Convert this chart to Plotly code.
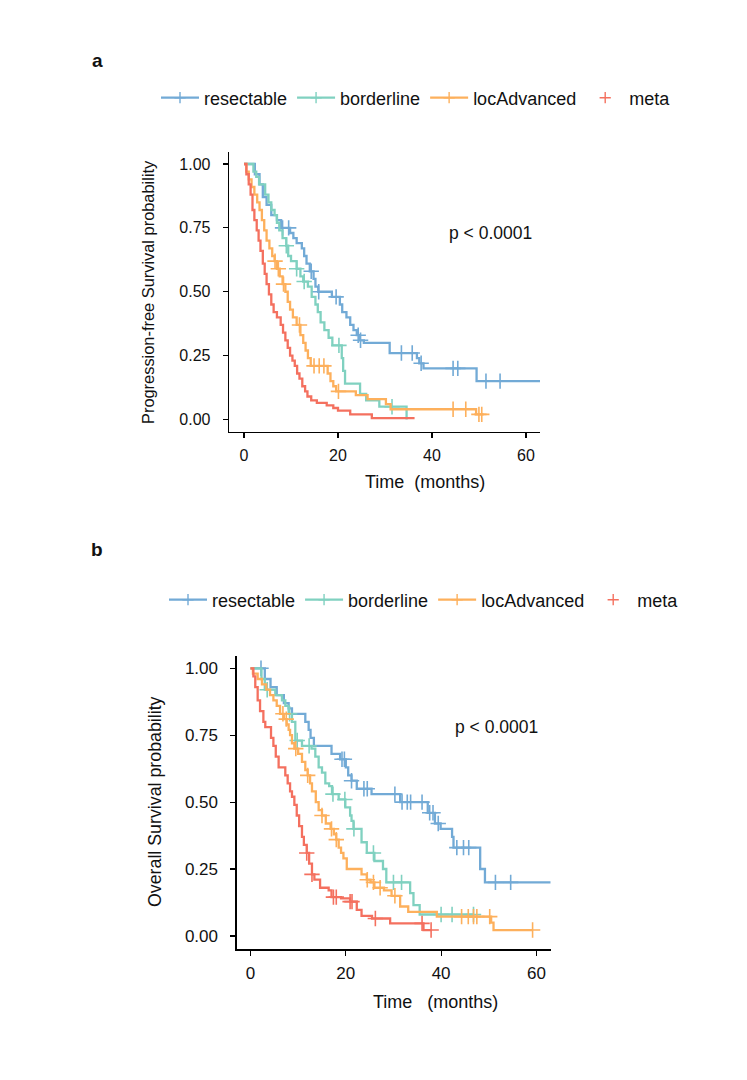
import plotly.graph_objects as go

W, H = 747, 1080
groups = ["resectable", "borderline", "locAdvanced", "meta"]
colors = {"resectable": "#72AAD6", "borderline": "#80D1C0", "locAdvanced": "#FDB05C", "meta": "#F4705F"}

# ---------------- Panel a: progression-free survival ----------------
pfs_res_t = [0, 2.3, 3.3, 4.0, 4.8, 5.8, 7.0, 7.9, 9.8, 10.5, 11.2, 12.3, 12.8, 13.3, 14.0, 14.8, 15.2, 15.8, 18.7, 20.4, 20.9, 21.8, 22.6, 23.3, 24.0, 24.6, 25.5, 31.0, 36.8, 37.3, 38.2, 49.5]
pfs_res_s = [1.0, 0.96, 0.92, 0.87, 0.84, 0.80, 0.78, 0.75, 0.73, 0.71, 0.69, 0.67, 0.64, 0.61, 0.58, 0.55, 0.52, 0.50, 0.48, 0.45, 0.42, 0.40, 0.37, 0.35, 0.33, 0.31, 0.30, 0.26, 0.24, 0.22, 0.20, 0.15]
pfs_res_end = 63
pfs_res_cens = [8.2, 9.5, 14.3, 15.9, 19.6, 24.3, 24.8, 33.5, 35.8, 37.7, 44.5, 45.5, 51.5, 54.5]

pfs_bor_t = [0, 2.0, 2.6, 3.2, 4.5, 5.2, 5.8, 6.5, 7.0, 7.5, 8.2, 9.0, 9.4, 10.0, 11.2, 12.0, 12.6, 13.6, 14.4, 15.2, 15.7, 16.3, 17.1, 18.0, 18.8, 20.8, 21.1, 21.5, 24.7, 26.0, 28.8, 34.6]
pfs_bor_s = [1.0, 0.97, 0.95, 0.92, 0.88, 0.85, 0.82, 0.80, 0.77, 0.74, 0.71, 0.68, 0.64, 0.62, 0.59, 0.56, 0.54, 0.52, 0.48, 0.45, 0.42, 0.38, 0.35, 0.32, 0.29, 0.24, 0.19, 0.14, 0.10, 0.075, 0.05, 0.0]
pfs_bor_end = 34.6
pfs_bor_cens = [9.0, 11.2, 12.8, 20.2, 31.5]

pfs_loc_t = [0, 0.5, 1.0, 1.6, 2.2, 2.8, 3.3, 3.8, 4.3, 4.8, 5.4, 6.0, 6.5, 7.0, 7.6, 8.2, 8.8, 9.3, 9.8, 10.4, 11.2, 12.0, 12.6, 13.1, 13.6, 14.2, 17.8, 18.4, 19.0, 19.6, 23.8, 26.3, 30.2, 31.2, 49.4]
pfs_loc_s = [1.0, 0.97, 0.94, 0.91, 0.88, 0.85, 0.82, 0.78, 0.74, 0.70, 0.67, 0.64, 0.62, 0.59, 0.56, 0.53, 0.50, 0.46, 0.43, 0.40, 0.37, 0.33, 0.30, 0.27, 0.24, 0.21, 0.18, 0.15, 0.13, 0.11, 0.095, 0.08, 0.06, 0.04, 0.02]
pfs_loc_end = 51
pfs_loc_cens = [6.6, 7.3, 8.4, 11.8, 14.9, 16.0, 17.0, 20.1, 44.5, 47.2, 50.0, 50.6]

pfs_met_t = [0, 0.5, 1.0, 1.4, 1.8, 2.2, 2.7, 3.1, 3.5, 4.0, 4.4, 4.8, 5.3, 5.8, 6.3, 7.0, 7.8, 8.3, 8.8, 9.3, 9.8, 10.3, 10.8, 11.3, 11.8, 12.4, 13.0, 13.5, 14.3, 15.5, 17.6, 19.0, 20.0, 22.6, 27.2]
pfs_met_s = [1.0, 0.96, 0.92, 0.88, 0.82, 0.78, 0.74, 0.70, 0.66, 0.61, 0.57, 0.53, 0.49, 0.45, 0.42, 0.40, 0.37, 0.34, 0.31, 0.28, 0.25, 0.23, 0.21, 0.18, 0.16, 0.13, 0.11, 0.09, 0.075, 0.065, 0.055, 0.045, 0.035, 0.02, 0.005]
pfs_met_end = 36.3
pfs_met_cens = []

# ---------------- Panel b: overall survival ----------------
os_res_t = [0, 3.0, 4.2, 5.5, 7.0, 8.0, 8.7, 11.5, 12.2, 12.6, 13.3, 17.0, 18.8, 20.0, 20.5, 21.2, 22.3, 25.4, 31.4, 37.2, 38.7, 39.9, 42.3, 42.6, 48.2, 49.2]
os_res_s = [1.0, 0.96, 0.93, 0.90, 0.87, 0.85, 0.83, 0.80, 0.77, 0.74, 0.71, 0.68, 0.66, 0.63, 0.60, 0.58, 0.55, 0.53, 0.50, 0.46, 0.42, 0.40, 0.37, 0.33, 0.25, 0.20]
os_res_end = 63
os_res_cens = [2.2, 19.2, 19.7, 21.2, 23.8, 24.5, 30.3, 31.8, 32.9, 33.6, 36.0, 37.6, 38.3, 39.4, 43.3, 44.7, 45.8, 51.4, 54.6]

os_bor_t = [0, 2.3, 3.0, 5.2, 6.6, 7.3, 8.0, 8.7, 9.4, 10.8, 12.8, 13.6, 14.3, 15.0, 15.7, 16.5, 17.1, 18.5, 19.9, 20.9, 21.2, 21.6, 23.3, 24.4, 26.0, 27.8, 28.5, 33.5, 34.2, 35.5]
os_bor_s = [1.0, 0.96, 0.92, 0.90, 0.88, 0.86, 0.83, 0.80, 0.73, 0.71, 0.70, 0.67, 0.63, 0.61, 0.57, 0.56, 0.53, 0.51, 0.48, 0.45, 0.43, 0.40, 0.35, 0.31, 0.28, 0.25, 0.20, 0.16, 0.115, 0.08]
os_bor_end = 46.8
os_bor_cens = [3.5, 8.2, 9.8, 12.3, 17.3, 19.8, 21.7, 25.8, 30.0, 31.7, 40.0, 42.3, 46.8]

os_loc_t = [0, 0.5, 1.5, 2.4, 3.3, 4.1, 4.8, 5.5, 6.2, 7.0, 7.6, 8.0, 8.3, 8.7, 9.2, 10.0, 10.8, 11.5, 12.0, 12.5, 12.9, 13.7, 14.3, 15.0, 15.8, 16.8, 17.5, 18.0, 18.5, 19.0, 19.5, 20.2, 23.3, 24.4, 25.2, 26.0, 28.0, 29.6, 31.4, 33.1, 39.1, 50.5, 51.0]
os_loc_s = [1.0, 0.98, 0.96, 0.94, 0.92, 0.90, 0.88, 0.86, 0.83, 0.81, 0.79, 0.77, 0.75, 0.72, 0.70, 0.68, 0.65, 0.62, 0.60, 0.57, 0.54, 0.50, 0.47, 0.45, 0.42, 0.40, 0.38, 0.36, 0.33, 0.31, 0.29, 0.25, 0.23, 0.21, 0.20, 0.18, 0.17, 0.15, 0.11, 0.09, 0.072, 0.05, 0.022]
os_loc_end = 59.2
os_loc_cens = [6.8, 7.5, 9.5, 12.0, 15.0, 17.0, 18.0, 24.5, 25.8, 27.2, 30.3, 44.3, 45.7, 46.8, 47.5, 50.2, 59.2]

os_met_t = [0, 0.6, 1.0, 1.5, 2.0, 2.7, 3.1, 4.3, 4.8, 5.3, 5.9, 7.3, 7.8, 8.3, 8.7, 9.2, 9.7, 10.2, 10.8, 11.2, 11.8, 12.3, 12.9, 13.4, 14.6, 16.4, 17.0, 19.0, 20.9, 22.3, 23.3, 25.5, 29.3, 36.3]
os_met_s = [1.0, 0.97, 0.93, 0.88, 0.84, 0.80, 0.78, 0.74, 0.71, 0.67, 0.63, 0.60, 0.57, 0.54, 0.52, 0.49, 0.45, 0.41, 0.37, 0.34, 0.31, 0.27, 0.23, 0.21, 0.18, 0.17, 0.145, 0.14, 0.128, 0.097, 0.075, 0.065, 0.047, 0.022]
os_met_end = 37.9
os_met_cens = [11.8, 12.9, 17.4, 18.0, 20.9, 21.3, 26.2, 36.0, 37.9]

pfs = {
    "resectable": (pfs_res_t, pfs_res_s, pfs_res_end, pfs_res_cens),
    "borderline": (pfs_bor_t, pfs_bor_s, pfs_bor_end, pfs_bor_cens),
    "locAdvanced": (pfs_loc_t, pfs_loc_s, pfs_loc_end, pfs_loc_cens),
    "meta": (pfs_met_t, pfs_met_s, pfs_met_end, pfs_met_cens),
}
os_ = {
    "resectable": (os_res_t, os_res_s, os_res_end, os_res_cens),
    "borderline": (os_bor_t, os_bor_s, os_bor_end, os_bor_cens),
    "locAdvanced": (os_loc_t, os_loc_s, os_loc_end, os_loc_cens),
    "meta": (os_met_t, os_met_s, os_met_end, os_met_cens),
}

x_ticks = [0, 20, 40, 60]
y_ticks = [0.0, 0.25, 0.5, 0.75, 1.0]
y_ticktext = ["0.00", "0.25", "0.50", "0.75", "1.00"]


def surv_at(t, times, survs):
    v = survs[0]
    for ti, si in zip(times, survs):
        if ti <= t:
            v = si
    return v


FONT = "Liberation Sans, Arial, Helvetica, sans-serif"
fig = go.Figure()

for data, xa, ya, leg in [(pfs, "x", "y", "legend"), (os_, "x2", "y2", "legend2")]:
    for g in groups:
        t, s, end, cens = data[g]
        xs = list(t) + [end]
        ys = list(s) + [s[-1]]
        c = colors[g]
        fig.add_trace(go.Scatter(x=xs, y=ys, mode="lines", line=dict(color=c, width=2.3, shape="hv"),
                                 xaxis=xa, yaxis=ya, showlegend=False, hoverinfo="skip"))
        if cens:
            fig.add_trace(go.Scatter(x=cens, y=[surv_at(ct, t, s) for ct in cens], mode="markers",
                                     marker=dict(symbol="cross-thin", size=11, color=c,
                                                 line=dict(color=c, width=1.6)),
                                     xaxis=xa, yaxis=ya, showlegend=False, hoverinfo="skip"))
        # legend entry
        fig.add_trace(go.Scatter(x=[None], y=[None], name=g,
                                 mode="markers" if g == "meta" else "lines+markers",
                                 line=dict(color=c, width=2.2),
                                 marker=dict(symbol="cross-thin", size=8, color=c,
                                             line=dict(color=c, width=1.4)),
                                 xaxis=xa, yaxis=ya, showlegend=True, legend=leg))

axis_common = dict(showline=True, linecolor="#000", linewidth=1.3, ticks="outside", ticklen=5,
                   tickwidth=1.2, tickcolor="#000", showgrid=False, zeroline=False)

fig.update_layout(
    width=W, height=H, margin=dict(l=0, r=0, t=0, b=0),
    paper_bgcolor="white", plot_bgcolor="white",
    font=dict(family=FONT, color="#111"),
    hovermode=False,
    xaxis=dict(domain=[229 / W, 540 / W], range=[-3.2, 63], tickvals=x_ticks, anchor="y",
               tickfont=dict(size=16), ticklabelstandoff=3, **axis_common),
    yaxis=dict(domain=[1 - 432 / H, 1 - 152 / H], range=[-0.049, 1.047], tickvals=y_ticks,
               ticktext=y_ticktext, anchor="x", tickfont=dict(size=16), ticklabelstandoff=9, **axis_common),
    xaxis2=dict(domain=[236.7 / W, 550.7 / W], range=[-2.9, 63], tickvals=x_ticks, anchor="y2",
                tickfont=dict(size=17), ticklabelstandoff=3, **axis_common),
    yaxis2=dict(domain=[1 - 949.3 / H, 1 - 656 / H], range=[-0.05, 1.046], tickvals=y_ticks,
                ticktext=y_ticktext, anchor="x2", tickfont=dict(size=17), ticklabelstandoff=9, **axis_common),
    legend=dict(orientation="h", x=156 / W, y=1 - 98 / H, xanchor="left", yanchor="middle",
                font=dict(size=18, family=FONT), bgcolor="rgba(0,0,0,0)", itemwidth=38),
    legend2=dict(orientation="h", x=164 / W, y=1 - 600 / H, xanchor="left", yanchor="middle",
                 font=dict(size=18, family=FONT), bgcolor="rgba(0,0,0,0)", itemwidth=38),
)

ann = [
    dict(text="<b>a</b>", x=97 / W, y=1 - 60 / H, size=19),
    dict(text="<b>b</b>", x=97 / W, y=1 - 549 / H, size=19),
    dict(text="p < 0.0001", x=490 / W, y=1 - 233 / H, size=17.5),
    dict(text="p < 0.0001", x=497 / W, y=1 - 727 / H, size=17.5),
    dict(text="Time\u00a0\u00a0(months)", x=425 / W, y=1 - 482 / H, size=18),
    dict(text="Time\u00a0\u00a0\u00a0(months)", x=435 / W, y=1 - 1002 / H, size=18),
    dict(text="Progression-free Survival probability", x=148 / W, y=1 - 292 / H, size=16.4, angle=-90),
    dict(text="Overall Survival probability", x=155 / W, y=1 - 802 / H, size=17.8, angle=-90),
]
for a in ann:
    fig.add_annotation(text=a["text"], x=a["x"], y=a["y"], xref="paper", yref="paper",
                       xanchor="center", yanchor="middle", showarrow=False,
                       textangle=a.get("angle", 0), font=dict(size=a["size"], family=FONT, color="#111"))

fig.write_html("out.html", config={"displayModeBar": False, "staticPlot": True},
               post_script="document.body.style.margin='0px';")
